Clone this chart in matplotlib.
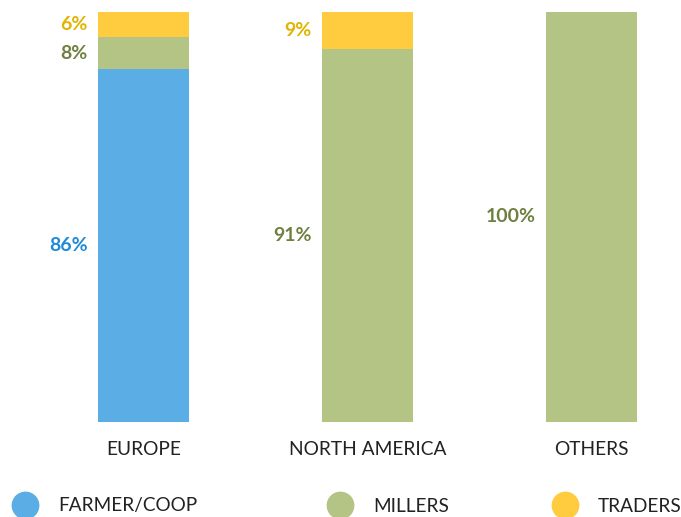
import matplotlib.pyplot as plt
from matplotlib.lines import Line2D

# data
regions = ['EUROPE', 'NORTH AMERICA', 'OTHERS']
series = ['FARMER/COOP', 'MILLERS', 'TRADERS']
farmer = [86, 0, 0]
millers = [8, 91, 100]
traders = [6, 9, 0]

bar_colors = ['#5AADE5', '#B3C484', '#FFCC40']
text_colors = ['#1E8AD8', '#6F8040', '#E2B300']

plt.rcParams['font.family'] = ['Lato', 'DejaVu Sans']

fig = plt.figure(figsize=(6.81, 5.17), dpi=100)
ax = fig.add_axes([0, 95 / 517, 1, 410 / 517])

x = range(len(regions))
width = 91 / 224
bottom = [0, 0, 0]
for vals, col, tcol in zip([farmer, millers, traders], bar_colors, text_colors):
    ax.bar(x, vals, width=width, bottom=bottom, color=col, linewidth=0)
    for i, v in enumerate(vals):
        if v > 0:
            ax.text(i - width / 2 - 0.045, bottom[i] + v / 2, f'{v}%',
                    ha='right', va='center', color=tcol,
                    fontsize=14, fontweight='bold')
    bottom = [b + v for b, v in zip(bottom, vals)]

ax.set_xlim(-143.5 / 224, (681 - 143.5) / 224)
ax.set_ylim(0, 100)
ax.set_xticks(list(x))
ax.set_xticklabels(regions, fontsize=13.8, color='#222222')
ax.tick_params(axis='x', length=0, pad=14)
ax.set_yticks([])
for s in ax.spines.values():
    s.set_visible(False)

# legend
leg_x = [25, 340, 565]
for lx, name, col in zip(leg_x, series, bar_colors):
    fig.add_artist(Line2D([lx / 681], [12 / 517], marker='o', markersize=19,
                          color=col, linestyle='none', transform=fig.transFigure))
    fig.text((lx + 33) / 681, 11 / 517, name, ha='left', va='center',
             fontsize=13.7, color='#222222')

fig.savefig('out.png', dpi=100)
